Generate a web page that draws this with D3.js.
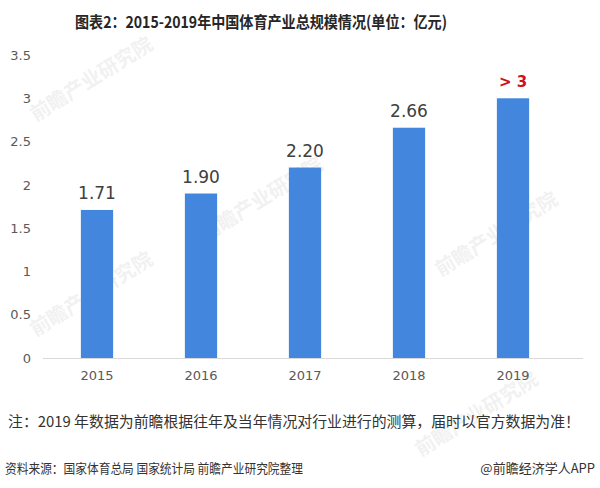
<!DOCTYPE html>
<html>
<head>
<meta charset="utf-8">
<script src="https://cdn.jsdelivr.net/npm/d3@7"></script>
<style>
  body { margin: 0; background: #fff; }
  text { font-family: "Noto Sans CJK SC", "DejaVu Sans", sans-serif; }
</style>
</head>
<body>
<div id="app"></div>
<script>
(function (d3) {

  'use strict'

  const years = ['2015', '2016', '2017', '2018', '2019']
  const values = [1.71, 1.90, 2.20, 2.66, 3]
  const valueLabels = ['1.71', '1.90', '2.20', '2.66', '> 3']
  const yTicks = [0, 0.5, 1, 1.5, 2, 2.5, 3, 3.5]
  const title = '图表2：2015-2019年中国体育产业总规模情况(单位：亿元)'
  const note = '注：2019 年数据为前瞻根据往年及当年情况对行业进行的测算，届时以官方数据为准！'
  const source = '资料来源：国家体育总局 国家统计局 前瞻产业研究院整理'
  const credit = '@前瞻经济学人APP'

  const w = 600
  const h = 488

  const svg = d3.select('#app')
  .append('svg')
  .attr('width', w)
  .attr('height', h)

  // faint watermarks
  const marks = [[95, 85], [265, 205], [500, 240], [95, 300], [480, 420]]
  svg.append('g')
  .selectAll('text')
  .data(marks)
  .enter()
  .append('text')
  .attr('transform', d => 'translate(' + d[0] + ',' + d[1] + ') rotate(-32)')
  .attr('text-anchor', 'middle')
  .attr('font-size', 20)
  .attr('font-weight', 'bold')
  .attr('fill', '#000')
  .attr('opacity', 0.05)
  .text('前瞻产业研究院')

  const x = d3.scaleBand()
  .domain(years)
  .range([45, 565])
  .paddingInner(0.69)
  .paddingOuter(0.345)

  const y = d3.scaleLinear()
  .domain([0, 3.5])
  .range([358, 55])

  svg.append('text')
  .attr('x', 75)
  .attr('y', 28)
  .attr('font-size', 16)
  .attr('font-weight', 'bold')
  .attr('fill', '#262626')
  .attr('textLength', 372)
  .attr('lengthAdjust', 'spacingAndGlyphs')
  .text(title)

  const yAxis = svg.append('g')
  .attr('transform', 'translate(31,0)')
  .call(d3.axisLeft(y).tickValues(yTicks).tickFormat(d3.format('~g')).tickSize(0).tickPadding(0))
  yAxis.select('.domain').remove()
  yAxis.selectAll('text')
  .attr('font-size', 13)
  .attr('fill', '#595959')
  .style('font-family', '"DejaVu Sans", sans-serif')

  svg.append('line')
  .attr('x1', 43)
  .attr('x2', 583)
  .attr('y1', y(0) + 0.5)
  .attr('y2', y(0) + 0.5)
  .attr('stroke', '#d9d9d9')
  .attr('stroke-width', 1)

  svg.append('g')
  .selectAll('rect')
  .data(values)
  .enter()
  .append('rect')
  .attr('x', (d, i) => x(years[i]))
  .attr('width', x.bandwidth())
  .attr('y', d => y(d))
  .attr('height', d => y(0) - y(d))
  .attr('fill', '#4286de')

  svg.append('g')
  .selectAll('text')
  .data(values)
  .enter()
  .append('text')
  .attr('x', (d, i) => x(years[i]) + x.bandwidth() / 2)
  .attr('y', d => y(d) - 11)
  .attr('text-anchor', 'middle')
  .attr('font-size', (d, i) => i === 4 ? 15 : 17)
  .attr('font-weight', (d, i) => i === 4 ? 'bold' : 'normal')
  .attr('fill', (d, i) => i === 4 ? '#d0101a' : '#404040')
  .style('font-family', '"DejaVu Sans", sans-serif')
  .text((d, i) => valueLabels[i])

  const xAxis = svg.append('g')
  .attr('transform', 'translate(0,' + y(0) + ')')
  .call(d3.axisBottom(x).tickSize(0).tickPadding(13))
  xAxis.select('.domain').remove()
  xAxis.selectAll('text')
  .attr('font-size', 13)
  .attr('fill', '#595959')
  .style('font-family', '"DejaVu Sans", sans-serif')

  svg.append('text')
  .attr('x', 8)
  .attr('y', 427)
  .attr('font-size', 15)
  .attr('fill', '#333')
  .attr('textLength', 572)
  .attr('lengthAdjust', 'spacingAndGlyphs')
  .text(note)

  svg.append('text')
  .attr('x', 5)
  .attr('y', 473)
  .attr('font-size', 13)
  .attr('fill', '#333')
  .attr('textLength', 298)
  .attr('lengthAdjust', 'spacingAndGlyphs')
  .text(source)

  svg.append('text')
  .attr('x', 595)
  .attr('y', 473)
  .attr('text-anchor', 'end')
  .attr('font-size', 13)
  .attr('fill', '#333')
  .text(credit)

}(d3))
</script>
</body>
</html>
